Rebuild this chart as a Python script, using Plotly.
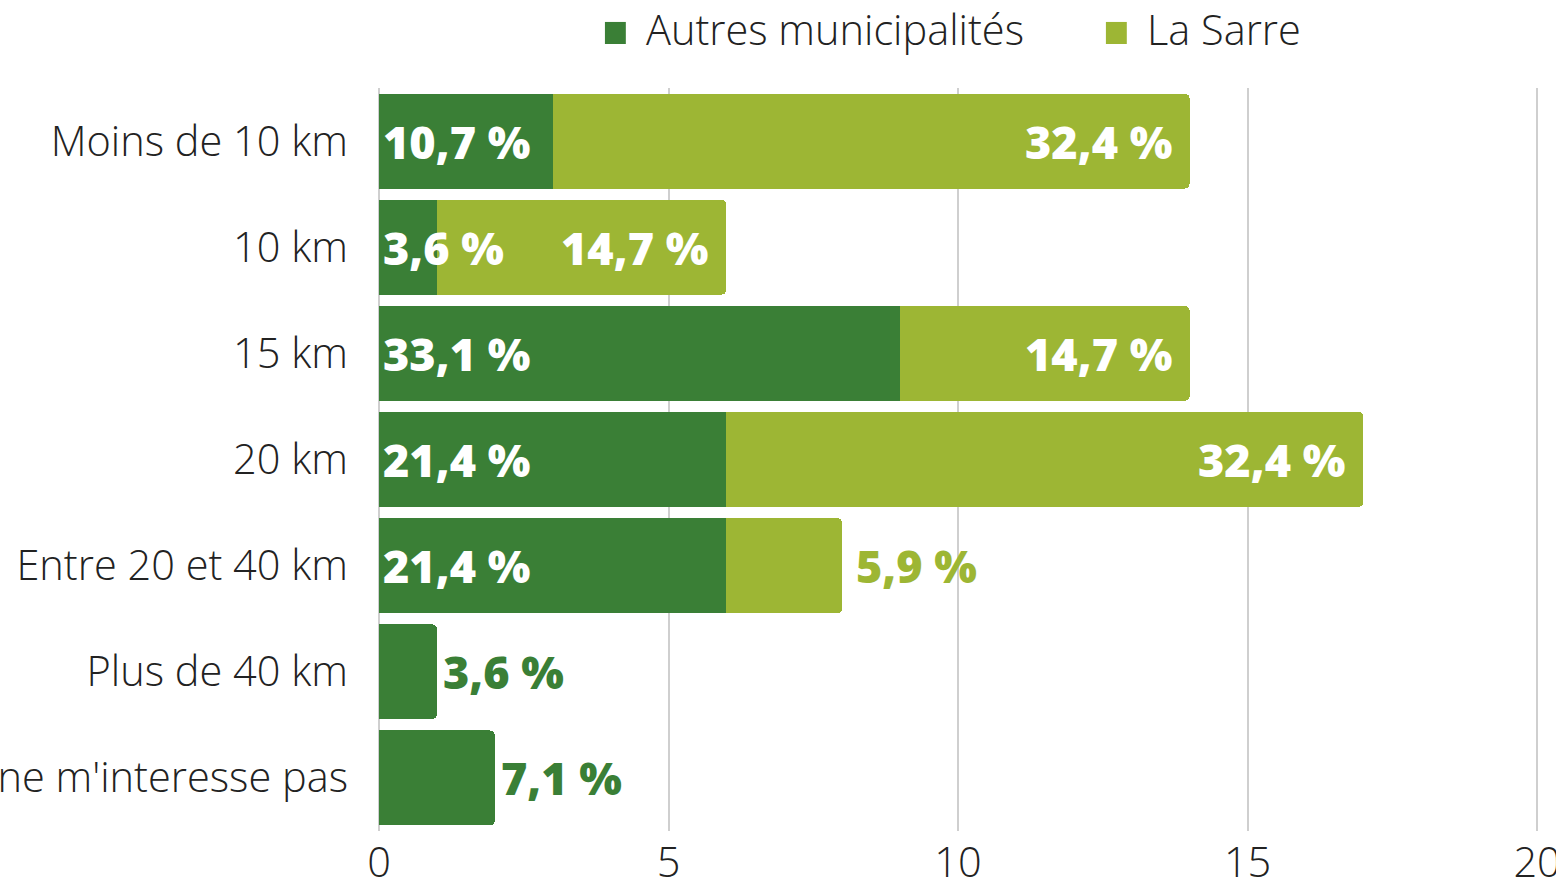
import plotly.graph_objects as go

# Distance categories (top to bottom) and respondent counts per group
categories = [
    "Moins de 10 km",
    "10 km",
    "15 km",
    "20 km",
    "Entre 20 et 40 km",
    "Plus de 40 km",
    "Ça ne m'interesse pas",
]
autres_counts = [3, 1, 9, 6, 6, 1, 2]
sarre_counts = [11, 5, 5, 11, 2, 0, 0]

# Share labels shown on the bars
autres_labels = ["10,7 %", "3,6 %", "33,1 %", "21,4 %", "21,4 %", "3,6 %", "7,1 %"]
sarre_labels = ["32,4 %", "14,7 %", "14,7 %", "32,4 %", "5,9 %", "", ""]

# Where each label sits: inside the bar or just past its end
autres_label_pos = ["in", "in", "in", "in", "in", "out", "out"]
sarre_label_pos = ["in", "in", "in", "in", "out", None, None]

x_ticks = [0, 5, 10, 15, 20]

DARK = "#3a7f36"
LIGHT = "#9db634"
FONT = "Open Sans"
TEXT = "#222222"
BASE_SIZE = 41.5
LABEL_SIZE = 45

fig = go.Figure()
fig.add_trace(go.Bar(
    y=categories, x=autres_counts, orientation="h",
    name="Autres municipalités", marker=dict(color=DARK, line=dict(width=0)),
    hoverinfo="skip",
))
fig.add_trace(go.Bar(
    y=categories, x=sarre_counts, orientation="h",
    name="La Sarre", marker=dict(color=LIGHT, line=dict(width=0)),
    hoverinfo="skip",
))


def label_font(color):
    return dict(family=FONT, size=LABEL_SIZE, weight=800, color=color)


annotations = []
for cat, a, s, la, ls, pa, ps in zip(categories, autres_counts, sarre_counts,
                                      autres_labels, sarre_labels,
                                      autres_label_pos, sarre_label_pos):
    if pa == "in":
        annotations.append(dict(x=0, y=cat, text=la, xanchor="left", xshift=2,
                                showarrow=False, font=label_font("white")))
    elif pa == "out":
        annotations.append(dict(x=a, y=cat, text=la, xanchor="left", xshift=4,
                                showarrow=False, font=label_font(DARK)))
    if ps == "in":
        annotations.append(dict(x=a + s, y=cat, text=ls, xanchor="right", xshift=-16,
                                showarrow=False, font=label_font("white")))
    elif ps == "out":
        annotations.append(dict(x=a + s, y=cat, text=ls, xanchor="left", xshift=12,
                                showarrow=False, font=label_font(LIGHT)))

# Legend drawn as swatches and text above the plot area
legend_items = [("Autres municipalités", DARK, 0.1946), ("La Sarre", LIGHT, 0.6261)]
shapes = []
for name, color, x0 in legend_items:
    shapes.append(dict(type="rect", xref="paper", yref="paper",
                       x0=x0, x1=x0 + 0.0180, y0=1.0592, y1=1.0889,
                       fillcolor=color, line=dict(width=0)))
    annotations.append(dict(xref="paper", yref="paper", x=x0 + 0.0340, y=1.0790,
                            text=name, xanchor="left", yanchor="middle", showarrow=False,
                            font=dict(family=FONT, size=BASE_SIZE, weight=300, color=TEXT)))

tick_font = dict(family=FONT, size=BASE_SIZE, weight=300, color=TEXT)

fig.update_layout(
    width=1556, height=884,
    margin=dict(l=379, r=16, t=88, b=53, autoexpand=False),
    paper_bgcolor="white", plot_bgcolor="white",
    barmode="stack", bargap=0.105, barcornerradius=5,
    showlegend=False,
    font=dict(family=FONT, size=BASE_SIZE, weight=300, color=TEXT),
    xaxis=dict(range=[0, 20.05], tickvals=x_ticks, showgrid=True,
               gridcolor="#cfcfcf", gridwidth=1.5,
               zeroline=True, zerolinecolor="#cfcfcf", zerolinewidth=1.5,
               showline=False, ticks="", ticklabelstandoff=3, automargin=False,
               ticklabeloverflow="allow", fixedrange=True, tickfont=tick_font),
    yaxis=dict(categoryorder="array", categoryarray=categories,
               range=[6.5, -0.5], showgrid=False, zeroline=False, showline=False,
               ticks="", ticklabelstandoff=30, automargin=False,
               ticklabeloverflow="allow", fixedrange=True, tickfont=tick_font),
    annotations=annotations,
    shapes=shapes,
)

fig.write_html("out.html")
